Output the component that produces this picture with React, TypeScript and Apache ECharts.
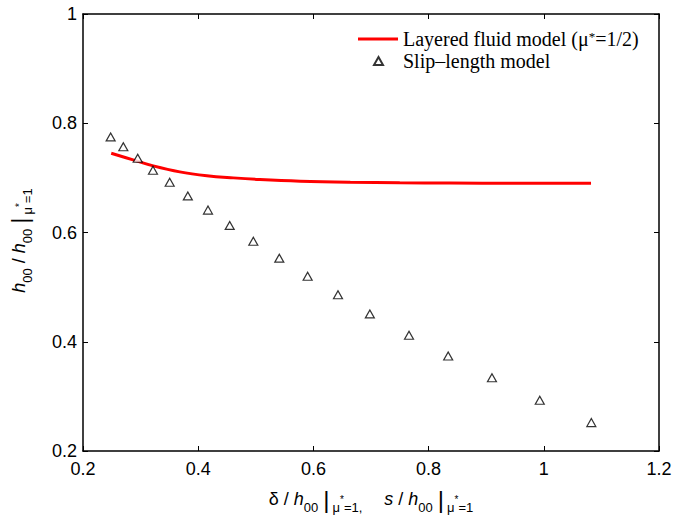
import React, { useEffect, useRef } from 'react';
import * as echarts from 'echarts';

// Layered fluid model (mu* = 1/2) – red curve
const layeredX = [0.249, 0.287, 0.322, 0.368, 0.415, 0.461, 0.507, 0.577, 0.664, 0.75, 0.837, 0.95, 1.082];
const layeredY = [0.745, 0.733, 0.722, 0.711, 0.704, 0.7, 0.697, 0.694, 0.692, 0.691, 0.6905, 0.69, 0.69];

// Slip-length model – triangles
const slipX = [0.248, 0.27, 0.295, 0.3215, 0.3505, 0.382, 0.417, 0.4547, 0.4957, 0.5408, 0.59, 0.6427, 0.698, 0.766, 0.834, 0.91, 0.993, 1.0825];
const slipY = [0.775, 0.757, 0.736, 0.714, 0.692, 0.667, 0.641, 0.613, 0.584, 0.553, 0.52, 0.486, 0.451, 0.412, 0.374, 0.334, 0.293, 0.252];

const xMin = 0.2, xMax = 1.2, xStep = 0.2;
const yMin = 0.2, yMax = 1.0, yStep = 0.2;

const nameLayered = 'Layered fluid model (μ*=1/2)';
const nameSlip = 'Slip–length model';

const SANS = '"Liberation Sans", Arial, Helvetica, sans-serif';
const SERIF = '"Liberation Serif", "Times New Roman", serif';

const titleRich = {
  i: { fontFamily: SANS, fontSize: 18, fontStyle: 'italic', color: '#000', lineHeight: 30 },
  n: { fontFamily: SANS, fontSize: 18, color: '#000', lineHeight: 30 },
  b: { fontFamily: SANS, fontSize: 24, color: '#000', lineHeight: 30 },
  s: { fontFamily: SANS, fontSize: 13, color: '#000', lineHeight: 11, verticalAlign: 'bottom' },
  t: { fontFamily: SANS, fontSize: 10, color: '#000', lineHeight: 10, verticalAlign: 'middle' },
  g: { width: 5, lineHeight: 30 },
  g2: { width: 3, lineHeight: 30 },
  gg: { width: 22, lineHeight: 30 },
};

const xTitle = '{n|δ}{g|}{n|/}{g|}{i|h}{s|00}{g|}{b||}{g2|}{s|μ}{t|*}{s|=1,}{gg|}{i|s}{g|}{n|/}{g|}{i|h}{s|00}{g|}{b||}{g2|}{s|μ}{t|*}{s|=1}';
const yTitle = '{i|h}{s|00}{g|}{n|/}{g|}{i|h}{s|00}{g|}{b||}{g2|}{s|μ}{t|*}{s|=1}';

const fmtTick = (v: number) => {
  const r = Math.round(v * 10) / 10;
  return Number.isInteger(r) ? String(r) : r.toFixed(1);
};

export default function App() {
  const ref = useRef<HTMLDivElement>(null);
  useEffect(() => {
    if (!ref.current) return;
    const chart = echarts.init(ref.current, undefined, { renderer: 'svg' });
    const axisLine = { show: true, lineStyle: { color: '#000', width: 1.5 } };
    const axisTick = { show: true, inside: true, length: 5, lineStyle: { color: '#000', width: 1 } };
    chart.setOption({
      animation: false,
      backgroundColor: '#fff',
      grid: { left: 83, right: 14, top: 14, bottom: 64, containLabel: false, outerBoundsMode: 'none' },
      legend: [
        {
          data: [nameLayered],
          left: 358,
          top: 29,
          padding: 0,
          icon: 'rect',
          itemWidth: 40,
          itemHeight: 3,
          formatter: () => 'Layered fluid model (μ{sup|*}=1/2)',
          textStyle: {
            fontFamily: SERIF,
            fontSize: 20,
            color: '#000',
            lineHeight: 19,
            rich: {
              sup: { fontFamily: SERIF, fontSize: 13, verticalAlign: 'top', lineHeight: 13, color: '#000' },
            },
          },
        },
        {
          data: [nameSlip],
          left: 373,
          top: 51,
          padding: 0,
          itemWidth: 9,
          itemHeight: 8,
          textStyle: { fontFamily: SERIF, fontSize: 20, color: '#000', lineHeight: 19, padding: [0, 0, 0, 15] },
        },
      ],
      xAxis: [
        {
          type: 'value',
          min: xMin,
          max: xMax,
          interval: xStep,
          position: 'bottom',
          axisLine,
          axisTick,
          splitLine: { show: false },
          axisLabel: { fontFamily: SANS, fontSize: 18, color: '#000', margin: 9, formatter: fmtTick },
          nameLocation: 'middle',
          nameGap: 33,
          name: xTitle,
          nameTextStyle: { rich: titleRich },
        },
        {
          type: 'value',
          min: xMin,
          max: xMax,
          interval: xStep,
          position: 'top',
          axisLine,
          axisTick,
          splitLine: { show: false },
          axisLabel: { show: false },
        },
      ],
      yAxis: [
        {
          type: 'value',
          min: yMin,
          max: yMax,
          interval: yStep,
          position: 'left',
          axisLine,
          axisTick,
          splitLine: { show: false },
          axisLabel: { fontFamily: SANS, fontSize: 18, color: '#000', margin: 6, formatter: fmtTick },
          nameLocation: 'middle',
          nameRotate: 90,
          nameGap: 49,
          name: yTitle,
          nameTextStyle: { rich: titleRich, padding: [0, 16, 0, 0] },
        },
        {
          type: 'value',
          min: yMin,
          max: yMax,
          interval: yStep,
          position: 'right',
          axisLine,
          axisTick,
          splitLine: { show: false },
          axisLabel: { show: false },
        },
      ],
      series: [
        {
          name: nameLayered,
          type: 'line',
          data: layeredX.map((x, i) => [x, layeredY[i]]),
          smooth: 0.4,
          showSymbol: false,
          symbol: 'none',
          lineStyle: { color: '#ff0000', width: 3 },
          itemStyle: { color: '#ff0000' },
          z: 2,
        },
        {
          name: nameSlip,
          type: 'scatter',
          data: slipX.map((x, i) => [x, slipY[i]]),
          symbol: 'triangle',
          symbolSize: [9, 8],
          itemStyle: { color: '#fff', borderColor: '#000', borderWidth: 1.2 },
          z: 3,
        },
      ],
    });
    return () => chart.dispose();
  }, []);
  return <div ref={ref} style={{ width: 673, height: 515, position: 'fixed', left: 0, top: 0 }} />;
}
